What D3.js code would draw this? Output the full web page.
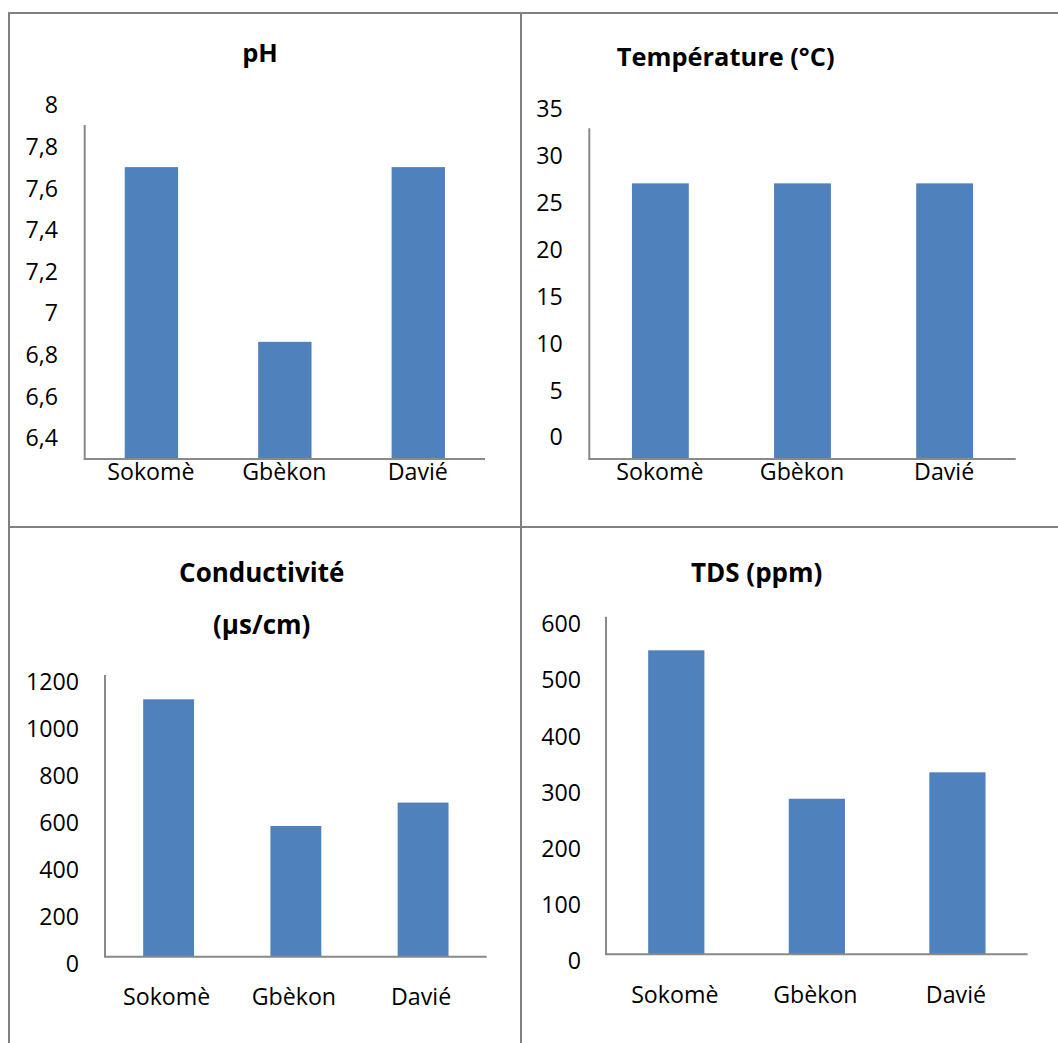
<!DOCTYPE html>
<html>
<head>
<meta charset="utf-8">
<script src="https://cdn.jsdelivr.net/npm/d3@7"></script>
<style>
  html, body { margin: 0; padding: 0; background: #fff; }
  svg { display: block; }
</style>
</head>
<body>
<svg id="chart" width="1058" height="1043"></svg>
<script>
// ---------- DATA ----------
const categories = ["Sokomè", "Gbèkon", "Davié"];

const phValues = [7.7, 6.86, 7.7];
const tempValues = [27, 27, 27];
const condValues = [1125, 585, 685];
const tdsValues = [552, 288, 335];

const phTicks = [6.4, 6.6, 6.8, 7, 7.2, 7.4, 7.6, 7.8, 8];
const tempTicks = [0, 5, 10, 15, 20, 25, 30, 35];
const condTicks = [0, 200, 400, 600, 800, 1000, 1200];
const tdsTicks = [0, 100, 200, 300, 400, 500, 600];

const phTitle = ["pH"];
const tempTitle = ["Température (°C)"];
const condTitle = ["Conductivité", "(µs/cm)"];
const tdsTitle = ["TDS (ppm)"];

// ---------- LAYOUT ----------
const FONT = "'Open Sans', sans-serif";
const BAR = "#4F81BD";
const AXIS = "#898989";
const BORDER = "#808080";
const TICK_SIZE = "23.2px";

const panels = [
  { title: phTitle, titleX: 260, titleY: [62], titleSize: "25.5px", values: phValues, ticks: phTicks,
    labelRight: 58, labelTop: 104.7, labelBottom: 437.5,
    axisX: 84.7, axisTop: 125, axisBase: 459, plotRight: 485,
    catY: 480, catShift: -0.5 },
  { title: tempTitle, titleX: 725.7, titleY: [65.5], titleSize: "25.4px", values: tempValues, ticks: tempTicks,
    labelRight: 562.7, labelTop: 108.3, labelBottom: 436.7,
    axisX: 589.3, axisTop: 128.3, axisBase: 459, plotRight: 1015.7,
    catY: 480, catShift: -0.5 },
  { title: condTitle, titleX: 261.7, titleY: [581.7, 634], titleSize: "26px", values: condValues, ticks: condTicks,
    labelRight: 79, labelTop: 681.7, labelBottom: 963.3,
    axisX: 105, axisTop: 675, axisBase: 956.7, plotRight: 486.7,
    catY: 1005, catShift: -2 },
  { title: tdsTitle, titleX: 756.7, titleY: [581.7], titleSize: "26px", values: tdsValues, ticks: tdsTicks,
    labelRight: 581, labelTop: 623.3, labelBottom: 960.7,
    axisX: 606, axisTop: 616.7, axisBase: 954.3, plotRight: 1027.7,
    catY: 1003, catShift: -1.5 }
];

const svg = d3.select("#chart");
svg.append("rect").attr("width", 1058).attr("height", 1043).attr("fill", "#fff");

// table borders
const borders = svg.append("g").attr("stroke", BORDER).attr("stroke-width", 2);
borders.append("line").attr("x1", 8).attr("x2", 1058).attr("y1", 13).attr("y2", 13);
borders.append("line").attr("x1", 8).attr("x2", 1058).attr("y1", 527).attr("y2", 527);
borders.append("line").attr("x1", 9).attr("x2", 9).attr("y1", 12).attr("y2", 1043);
borders.append("line").attr("x1", 521).attr("x2", 521).attr("y1", 12).attr("y2", 1043);

const fmt = d => String(d).replace(".", ",");

panels.forEach(p => {
  const g = svg.append("g");
  const min = d3.min(p.ticks), max = d3.max(p.ticks);

  const y = d3.scaleLinear().domain([min, max]).range([p.labelBottom, p.labelTop]);
  const x = d3.scaleBand().domain(categories).range([p.axisX, p.plotRight])
    .paddingInner(0.6).paddingOuter(0.3);

  // bars
  g.append("g").selectAll("rect")
    .data(categories.map((c, i) => ({ c, v: p.values[i] })))
    .join("rect")
    .attr("x", d => x(d.c))
    .attr("width", x.bandwidth())
    .attr("y", d => y(d.v))
    .attr("height", d => p.axisBase - y(d.v))
    .attr("fill", BAR);

  // y tick labels
  const ya = g.append("g")
    .attr("transform", `translate(${p.labelRight},0)`)
    .call(d3.axisLeft(y).tickValues(p.ticks).tickSize(0).tickPadding(0).tickFormat(fmt));
  ya.select(".domain").remove();
  ya.attr("font-family", null).attr("font-size", null);
  ya.selectAll("text")
    .attr("dy", "0.357em")
    .style("font-family", FONT).style("font-size", TICK_SIZE).attr("fill", "#000");

  // x category labels
  const xa = g.append("g")
    .attr("transform", `translate(${p.catShift},${p.catY})`)
    .call(d3.axisBottom(x).tickSize(0).tickPadding(0));
  xa.select(".domain").remove();
  xa.attr("font-family", null).attr("font-size", null);
  xa.selectAll("text")
    .attr("y", 0).attr("dy", 0)
    .style("font-family", FONT).style("font-size", TICK_SIZE).attr("fill", "#000");

  // axis lines
  g.append("line").attr("x1", p.axisX).attr("x2", p.axisX)
    .attr("y1", p.axisTop).attr("y2", p.axisBase)
    .attr("stroke", AXIS).attr("stroke-width", 2);
  g.append("line").attr("x1", p.axisX - 1).attr("x2", p.plotRight)
    .attr("y1", p.axisBase).attr("y2", p.axisBase)
    .attr("stroke", AXIS).attr("stroke-width", 2);

  // title
  p.title.forEach((t, i) => {
    g.append("text")
      .attr("x", p.titleX).attr("y", p.titleY[i])
      .attr("text-anchor", "middle")
      .style("font-family", FONT).style("font-weight", "bold").style("font-size", p.titleSize)
      .attr("fill", "#000")
      .text(t);
  });
});
</script>
</body>
</html>
